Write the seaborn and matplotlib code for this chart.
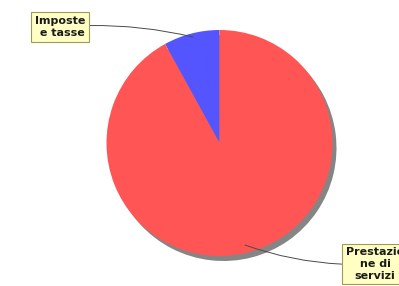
"""
Pie chart: Imposte e tasse vs Prestazione di servizi
"""
import matplotlib
matplotlib.use('Agg')
import matplotlib.pyplot as plt
import seaborn as sns

sns.set_theme(style='white')
plt.rcParams['font.family'] = ['DejaVu Sans']

# Data
categories = ['Imposte\n e tasse', 'Prestazio\nne di\nservizi']
values = [8, 92]
colors = ['#5555ff', '#ff5555']

fig = plt.figure(figsize=(3.99, 2.86), dpi=100)
ax = fig.add_axes([0, 0, 1, 1])

cx, cy, r = 219.5, 143, 113

# shadow
ax.pie(values, colors=['#858585'] * len(values), startangle=90,
       center=(cx + 4, cy - 5), radius=r, wedgeprops=dict(linewidth=0))
wedges, _ = ax.pie(values, colors=colors, startangle=90,
                   center=(cx, cy), radius=r, wedgeprops=dict(linewidth=0))

box = dict(boxstyle='square,pad=0.35', fc='#ffffc4', ec='#9c9c5a', lw=0.8)
line = dict(arrowstyle='-', color='#4a4a4a', lw=0.7, shrinkA=0, shrinkB=0)

ax.annotate(categories[0], xy=(193, 286 - 37), xytext=(60, 286 - 27),
            ha='center', va='center', multialignment='right',
            fontsize=8, fontweight='bold', color='#1a1a1a', bbox=box,
            arrowprops=dict(line, connectionstyle='arc3,rad=-0.08'))
ax.annotate(categories[1], xy=(245, 286 - 245), xytext=(375, 286 - 264),
            ha='center', va='center', multialignment='center',
            fontsize=8, fontweight='bold', color='#1a1a1a', bbox=box,
            arrowprops=dict(line, connectionstyle='arc3,rad=-0.1'))

ax.set_xlim(0, 399)
ax.set_ylim(0, 286)
ax.set_aspect('auto')
ax.axis('off')

plt.savefig('out.png', dpi=100)
